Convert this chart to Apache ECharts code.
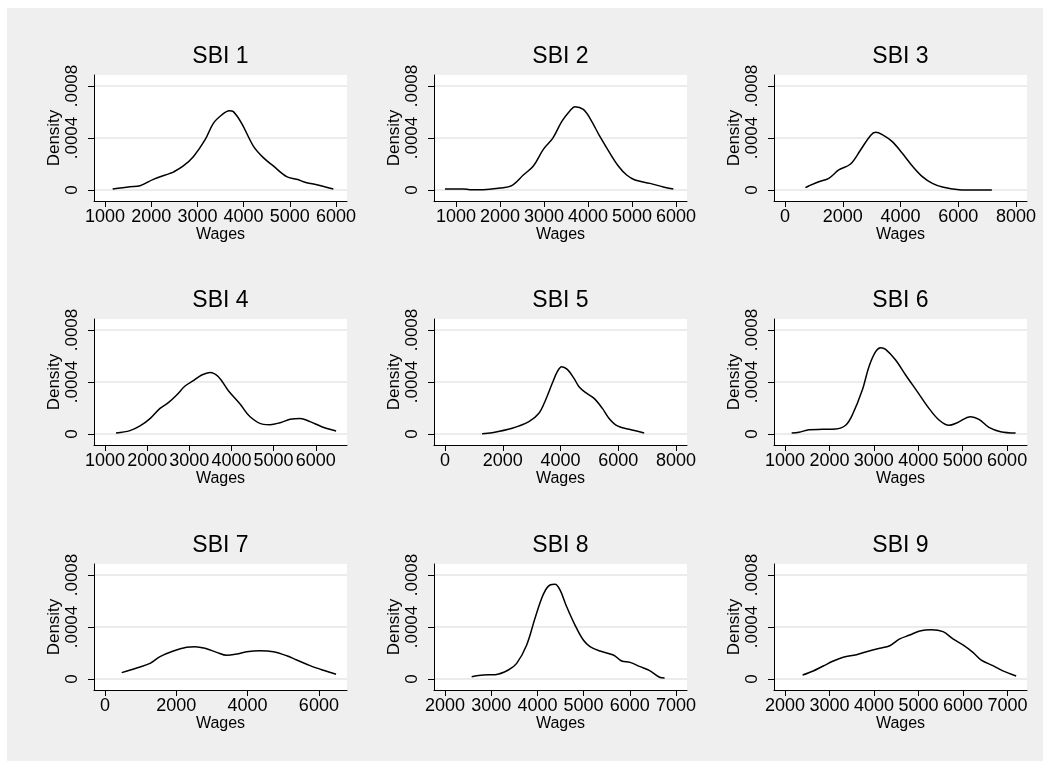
<!DOCTYPE html>
<html>
<head>
<meta charset="utf-8">
<script src="https://cdn.jsdelivr.net/npm/echarts@6/dist/echarts.min.js"></script>
<style>
  html, body { margin: 0; padding: 0; background: #fff; }
  #chart { width: 1050px; height: 769px; }
</style>
</head>
<body>
<div id="chart"></div>
<script>
// =====================
// 数据
// =====================

const titles = ["SBI 1", "SBI 2", "SBI 3", "SBI 4", "SBI 5", "SBI 6", "SBI 7", "SBI 8", "SBI 9"];

const densityTicks = [0, 0.0004, 0.0008];
const densityRange = [0, 0.0008];

const sbi1Ticks = [1000, 2000, 3000, 4000, 5000, 6000];
const sbi1Range = [1000, 6000];
const sbi1Wages = [1166, 1541, 1758, 2046, 2407, 2479, 2695, 2912, 3164, 3345, 3525, 3691, 3778, 3958, 4211, 4427, 4643, 4932, 5149, 5365, 5582, 5942];
const sbi1Density = [0.0000077, 0.0000256, 0.000033, 0.000082, 0.000128, 0.000138, 0.000185, 0.000256, 0.000385, 0.000513, 0.000577, 0.00061, 0.000603, 0.000513, 0.000338, 0.000249, 0.000185, 0.000103, 0.000082, 0.000056, 0.000041, 0.0000077];

const sbi2Ticks = [1000, 2000, 3000, 4000, 5000, 6000];
const sbi2Range = [750, 6000];
const sbi2Wages = [750, 1167, 1318, 1621, 2000, 2265, 2530, 2758, 2985, 3197, 3402, 3591, 3705, 3894, 4045, 4273, 4500, 4689, 4879, 5068, 5409, 5712, 5939];
const sbi2Density = [0.0000077, 0.0000077, 0.0000026, 0.0000026, 0.000015, 0.000033, 0.000115, 0.000185, 0.000313, 0.000397, 0.000526, 0.00061, 0.000641, 0.00062, 0.000551, 0.00041, 0.000282, 0.000185, 0.000115, 0.000077, 0.000051, 0.000023, 0.0000077];

const sbi3Ticks = [0, 2000, 4000, 6000, 8000];
const sbi3Range = [0, 8000];
const sbi3Wages = [706, 822, 1169, 1516, 1863, 2269, 2616, 2963, 3137, 3368, 3715, 4063, 4410, 4757, 5104, 5451, 6030, 6493, 7164];
const sbi3Density = [0.000018, 0.000031, 0.000064, 0.00009, 0.000154, 0.0002, 0.000308, 0.00042, 0.000444, 0.000426, 0.000372, 0.000282, 0.000185, 0.000103, 0.000051, 0.000023, 0.0000026, 0, 0];

const sbi4Ticks = [1000, 2000, 3000, 4000, 5000, 6000];
const sbi4Range = [1000, 6480];
const sbi4Wages = [1261, 1593, 1831, 2068, 2305, 2503, 2701, 2899, 3097, 3294, 3492, 3690, 3927, 4204, 4441, 4758, 4916, 5154, 5391, 5628, 5866, 6142, 6483];
const sbi4Density = [0.0000077, 0.000026, 0.000062, 0.000118, 0.000197, 0.000241, 0.0003, 0.000369, 0.00041, 0.000454, 0.000474, 0.000441, 0.000333, 0.000231, 0.000133, 0.000074, 0.000072, 0.000087, 0.000113, 0.00012, 0.000095, 0.000056, 0.000023];

const sbi5Ticks = [0, 2000, 4000, 6000, 8000];
const sbi5Range = [0, 8000];
const sbi5Wages = [1285, 1632, 2326, 2905, 3252, 3484, 3715, 3889, 4039, 4236, 4468, 4641, 4873, 5162, 5451, 5683, 5972, 6377, 6898];
const sbi5Density = [0.0000026, 0.00001, 0.000044, 0.000095, 0.000159, 0.000262, 0.00039, 0.000479, 0.000518, 0.000497, 0.000428, 0.000364, 0.000318, 0.000274, 0.000197, 0.00012, 0.000062, 0.000036, 0.0000077];

const sbi6Ticks = [1000, 2000, 3000, 4000, 5000, 6000];
const sbi6Range = [1000, 6200];
const sbi6Wages = [1150, 1315, 1540, 1840, 2140, 2365, 2515, 2740, 2890, 3040, 3153, 3265, 3490, 3715, 3978, 4241, 4466, 4691, 4878, 5178, 5366, 5591, 5854, 6191];
const sbi6Density = [0.0000077, 0.000013, 0.000033, 0.000036, 0.000038, 0.000067, 0.000146, 0.000338, 0.000518, 0.000633, 0.000664, 0.000651, 0.000569, 0.000454, 0.000326, 0.000197, 0.000108, 0.000067, 0.000087, 0.000133, 0.000113, 0.000051, 0.000018, 0.0000077];

const sbi7Ticks = [0, 2000, 4000, 6000];
const sbi7Range = [0, 6480];
const sbi7Wages = [468, 889, 1263, 1543, 1918, 2292, 2526, 2806, 3134, 3414, 3695, 3975, 4350, 4724, 5098, 5379, 5753, 6127, 6482];
const sbi7Density = [0.000049, 0.000085, 0.00012, 0.000172, 0.000215, 0.000244, 0.000249, 0.000236, 0.000205, 0.000182, 0.000192, 0.00021, 0.000218, 0.00021, 0.000179, 0.000146, 0.000103, 0.000067, 0.000036];

const sbi8Ticks = [2000, 3000, 4000, 5000, 6000, 7000];
const sbi8Range = [2000, 7000];
const sbi8Wages = [2577, 2830, 3082, 3371, 3551, 3768, 3948, 4128, 4273, 4381, 4489, 4634, 4814, 4994, 5139, 5355, 5644, 5825, 6005, 6222, 6439, 6645, 6753];
const sbi8Density = [0.000018, 0.000031, 0.000033, 0.000069, 0.00012, 0.000262, 0.000467, 0.000651, 0.000723, 0.000728, 0.000685, 0.000556, 0.000415, 0.0003, 0.000249, 0.000215, 0.000185, 0.000138, 0.000128, 0.000095, 0.000062, 0.000013, 0.0000077];

const sbi9Ticks = [2000, 3000, 4000, 5000, 6000, 7000];
const sbi9Range = [2000, 7190];
const sbi9Wages = [2396, 2635, 2859, 3084, 3308, 3607, 3831, 4130, 4354, 4578, 4802, 5027, 5288, 5550, 5774, 5998, 6222, 6409, 6671, 6895, 7194];
const sbi9Density = [0.000031, 0.000062, 0.0001, 0.000138, 0.000167, 0.000187, 0.00021, 0.000236, 0.000256, 0.000308, 0.000338, 0.000369, 0.000379, 0.000364, 0.000308, 0.000262, 0.000205, 0.000146, 0.000103, 0.000062, 0.000023];

const panels = [
  { ticks: sbi1Ticks, range: sbi1Range, wages: sbi1Wages, density: sbi1Density },
  { ticks: sbi2Ticks, range: sbi2Range, wages: sbi2Wages, density: sbi2Density },
  { ticks: sbi3Ticks, range: sbi3Range, wages: sbi3Wages, density: sbi3Density },
  { ticks: sbi4Ticks, range: sbi4Range, wages: sbi4Wages, density: sbi4Density },
  { ticks: sbi5Ticks, range: sbi5Range, wages: sbi5Wages, density: sbi5Density },
  { ticks: sbi6Ticks, range: sbi6Range, wages: sbi6Wages, density: sbi6Density },
  { ticks: sbi7Ticks, range: sbi7Range, wages: sbi7Wages, density: sbi7Density },
  { ticks: sbi8Ticks, range: sbi8Range, wages: sbi8Wages, density: sbi8Density },
  { ticks: sbi9Ticks, range: sbi9Range, wages: sbi9Wages, density: sbi9Density },
];

// =====================
// 布局
// =====================

const FONT = "'Liberation Sans', Arial, Helvetica, sans-serif";
const GRID_W = 253;
const GRID_H = 126;
const PAD = 11; // 绘图区内边距(px)
const colLeft = [94, 434, 774];
const rowTop = [75, 319, 564];

function padded(range, size) {
  const span = range[1] - range[0];
  const p = (PAD / (size - 2 * PAD)) * span;
  return [range[0] - p, range[1] + p];
}

function yLabel(v) {
  if (v === 0) return "0";
  return String(+v.toFixed(6)).replace(/^0\./, ".");
}

function xLabel(v) {
  return String(Math.round(v));
}

// =====================
// 初始化
// =====================

const chart = echarts.init(document.getElementById("chart"), null, { renderer: "canvas" });

const grids = [];
const xAxes = [];
const yAxes = [];
const series = [];
const titleList = [];
const yPadded = padded(densityRange, GRID_H);

panels.forEach((p, i) => {
  const left = colLeft[i % 3];
  const top = rowTop[Math.floor(i / 3)];
  const xPadded = padded(p.range, GRID_W);

  grids.push({
    left: left,
    top: top,
    width: GRID_W,
    height: GRID_H,
    show: true,
    backgroundColor: "#ffffff",
    borderWidth: 0,
  });

  titleList.push({
    text: titles[i],
    left: left + GRID_W / 2,
    top: top - 30,
    textAlign: "center",
    padding: 0,
    textStyle: { fontFamily: FONT, fontSize: 23, fontWeight: "normal", color: "#000" },
  });

  xAxes.push({
    type: "value",
    gridIndex: i,
    min: xPadded[0],
    max: xPadded[1],
    name: "Wages",
    nameLocation: "middle",
    nameGap: 18,
    nameTextStyle: { fontFamily: FONT, fontSize: 16, color: "#000" },
    axisLine: { show: true, onZero: false, lineStyle: { color: "#000", width: 1 } },
    axisTick: { show: true, inside: false, length: 6, customValues: p.ticks, lineStyle: { color: "#000" } },
    axisLabel: {
      customValues: p.ticks,
      formatter: xLabel,
      showMinLabel: true,
      showMaxLabel: true,
      hideOverlap: false,
      fontFamily: FONT,
      fontSize: 18,
      color: "#000",
      margin: 7,
    },
    splitLine: { show: false },
  });

  yAxes.push({
    type: "value",
    gridIndex: i,
    min: yPadded[0],
    max: yPadded[1],
    name: "Density",
    nameLocation: "middle",
    nameGap: 30,
    nameTextStyle: { fontFamily: FONT, fontSize: 17, color: "#000" },
    axisLine: { show: true, onZero: false, lineStyle: { color: "#000", width: 1 } },
    axisTick: { show: true, inside: false, length: 6, customValues: densityTicks, lineStyle: { color: "#000" } },
    axisLabel: {
      customValues: densityTicks,
      rotate: 90,
      showMinLabel: true,
      showMaxLabel: true,
      fontFamily: FONT,
      fontSize: 17,
      color: "#000",
      margin: 13,
      formatter: yLabel,
    },
    splitLine: { show: true, lineStyle: { color: "#e6e6e6", width: 1.5 } },
  });

  series.push({
    type: "line",
    xAxisIndex: i,
    yAxisIndex: i,
    data: p.wages.map((w, k) => [w, p.density[k]]),
    smooth: 0.35,
    showSymbol: false,
    silent: true,
    lineStyle: { color: "#000", width: 1.5 },
  });
});

chart.setOption({
  animation: false,
  backgroundColor: "#ffffff",
  graphic: [
    {
      type: "rect",
      left: 7,
      top: 8,
      shape: { width: 1036, height: 753 },
      style: { fill: "#efefef" },
      z: -10,
      silent: true,
    },
  ],
  title: titleList,
  grid: grids,
  xAxis: xAxes,
  yAxis: yAxes,
  series: series,
});
</script>
</body>
</html>
